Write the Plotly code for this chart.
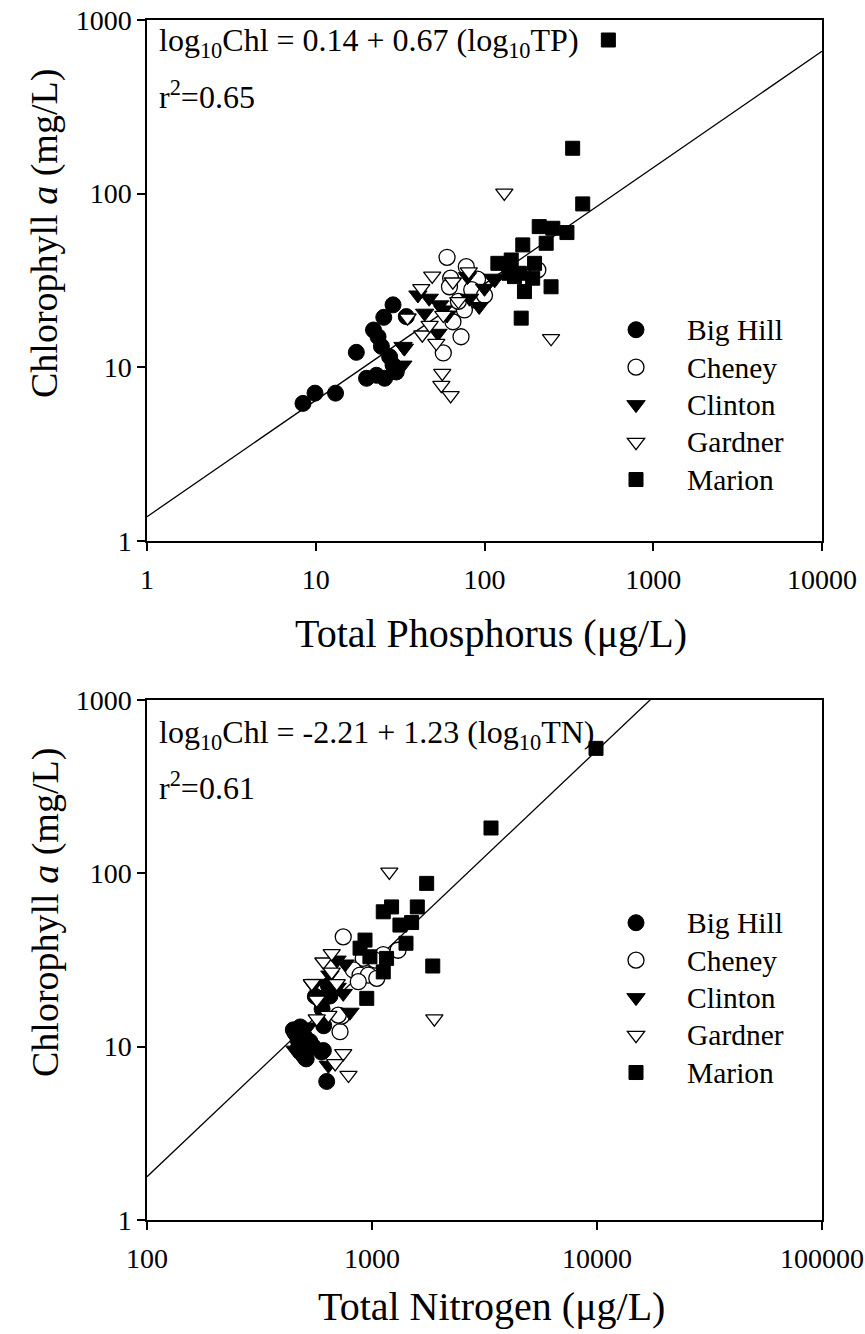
import math
import plotly.graph_objects as go

# ---------------- data: top panel (TP vs Chl) ----------------
bighill_tp = [8.4, 9.9, 13.1, 17.4, 20, 22.9, 25.6, 30, 28.7, 27.4, 24.5, 23.4, 22, 25.3, 28.7, 34.4]
bighill_tp_chl = [6.2, 7.1, 7.1, 12.2, 8.65, 9.0, 8.65, 9.4, 10.3, 11.5, 13.2, 15.0, 16.4, 19.4, 22.9, 19.6]

cheney_tp = [60, 78, 63, 62, 91, 89, 76, 65, 72.6, 57, 207, 84, 70, 100]
cheney_tp_chl = [43, 38, 32.6, 29.1, 32.2, 24.4, 21.4, 18.3, 15.0, 12.1, 36.4, 28, 24, 26]

clinton_tp = [32.9, 32.8, 33.5, 40.3, 44.2, 56.7, 53, 54.2, 79.3, 81.5, 93, 100, 115, 112, 47, 60]
clinton_tp_chl = [13.2, 10.3, 12.9, 26.1, 20.5, 21.4, 15.7, 22.9, 33.3, 25, 22.4, 28.5, 31.9, 32.6, 25, 20]

gardner_tp = [49, 42.2, 35, 42.8, 47.3, 51.8, 56.2, 55.5, 63, 80.7, 64.9, 131, 248, 57, 70]
gardner_tp_chl = [33.6, 28.5, 19.3, 15.4, 17.5, 13.8, 9.25, 7.9, 6.9, 35.6, 31.1, 101, 14.7, 20, 24]

marion_tp = [542, 333, 382, 211, 254, 308, 232, 168.6, 120, 144, 139.5, 161, 198, 193, 172.5, 248, 165, 150.6]
marion_tp_chl = [767, 182.6, 87.3, 64.6, 63.2, 59.7, 51.8, 50.7, 39.7, 41.5, 34.8, 34.8, 39.7, 32.6, 27.3, 29.1, 19.2, 33.3]

# ---------------- data: bottom panel (TN vs Chl) ----------------
bighill_tn = [447, 470, 455, 495, 530, 548, 597, 608, 629, 480, 470, 510, 500, 460, 525, 560, 600, 640, 610, 650]
bighill_tn_chl = [12.5, 10.9, 12.0, 9.15, 10.7, 10.0, 9.3, 9.5, 6.3, 13.0, 9.8, 8.5, 11.5, 11.8, 9.8, 19.5, 16.5, 22.5, 13.2, 19.6]

cheney_tn = [745, 1122, 1305, 1031, 914, 826, 885, 963, 1050, 869, 721, 733, 708]
cheney_tn_chl = [43, 34, 36, 31.6, 32.3, 27.7, 25.9, 25.9, 24.8, 23.7, 12.2, 15.0, 15.2]

clinton_tn = [455, 480, 640, 547, 575, 558, 600, 650, 699, 745, 798, 760, 700, 620, 520]
clinton_tn_chl = [9.55, 8.8, 7.8, 22.6, 18.1, 23.2, 20, 25.9, 31.6, 20.3, 15.8, 30, 22, 15, 13]

gardner_tn = [1194, 1893, 745, 686, 786, 608, 662, 540, 697, 568, 640, 568, 662]
gardner_tn_chl = [102, 14.5, 9.15, 8.0, 6.86, 30.9, 34.5, 23.2, 23.2, 18.6, 15.2, 14.5, 27]

marion_tn = [9900, 3380, 1750, 1222, 1122, 1590, 1331, 1500, 1416, 1862, 948, 931, 979, 1161, 1122, 885]
marion_tn_chl = [526, 182.6, 87.5, 64, 60, 64, 50.3, 52, 39.5, 29.2, 19, 41.2, 33, 32.3, 27, 37]

# regression coefficients (from the printed equations)
tp_fit = (0.14, 0.67)
tn_fit = (-2.21, 1.23)
tp_line_x = [1, 10000]
tn_line_x = [100, 100000]

lakes = ["Big Hill", "Cheney", "Clinton", "Gardner", "Marion"]
styles = {
    "Big Hill": dict(symbol="circle", color="black", size=16, line=dict(color="black", width=1)),
    "Cheney": dict(symbol="circle", color="white", size=16, line=dict(color="black", width=1.3)),
    "Clinton": dict(symbol="triangle-down", color="black", size=16, line=dict(color="black", width=1)),
    "Gardner": dict(symbol="triangle-down", color="white", size=15, line=dict(color="black", width=1.3)),
    "Marion": dict(symbol="square", color="black", size=14, line=dict(color="black", width=1)),
}

top_data = {
    "Big Hill": (bighill_tp, bighill_tp_chl),
    "Cheney": (cheney_tp, cheney_tp_chl),
    "Clinton": (clinton_tp, clinton_tp_chl),
    "Gardner": (gardner_tp, gardner_tp_chl),
    "Marion": (marion_tp, marion_tp_chl),
}
bot_data = {
    "Big Hill": (bighill_tn, bighill_tn_chl),
    "Cheney": (cheney_tn, cheney_tn_chl),
    "Clinton": (clinton_tn, clinton_tn_chl),
    "Gardner": (gardner_tn, gardner_tn_chl),
    "Marion": (marion_tn, marion_tn_chl),
}

FONT = "'Liberation Serif', 'Times New Roman', serif"
fig = go.Figure()


def fit_y(x, c):
    return 10 ** (c[0] + c[1] * math.log10(x))


fig.add_trace(go.Scatter(x=tp_line_x, y=[fit_y(v, tp_fit) for v in tp_line_x], mode="lines",
                         line=dict(color="black", width=1.3), showlegend=False, xaxis="x", yaxis="y"))
fig.add_trace(go.Scatter(x=tn_line_x, y=[fit_y(v, tn_fit) for v in tn_line_x], mode="lines",
                         line=dict(color="black", width=1.3), showlegend=False, xaxis="x2", yaxis="y2"))


def legend_name(s):
    return '<span style="font-size:29.5px">' + s + '</span>'


for lk in lakes:
    x, y = top_data[lk]
    fig.add_trace(go.Scatter(x=x, y=y, mode="markers", name=legend_name(lk), legend="legend",
                             marker=styles[lk], xaxis="x", yaxis="y"))
for lk in lakes:
    x, y = bot_data[lk]
    fig.add_trace(go.Scatter(x=x, y=y, mode="markers", name=legend_name(lk), legend="legend2",
                             marker=styles[lk], xaxis="x2", yaxis="y2"))

W, H = 865, 1334


def px_x(p):
    return p / W


def px_y(p):
    return 1 - p / H


axis_common = dict(type="log", showline=True, linecolor="black", linewidth=1.5, mirror=True,
                   ticks="outside", ticklen=8, tickwidth=1.5, tickcolor="black", showgrid=False,
                   zeroline=False, automargin=False,
                   tickfont=dict(family=FONT, size=28, color="black"))

legend_common = dict(xanchor="left", yanchor="top", bgcolor="rgba(0,0,0,0)",
                     font=dict(family=FONT, size=26.5, color="black"), tracegroupgap=0, itemwidth=92)

fig.update_layout(
    width=W, height=H, margin=dict(l=0, r=0, t=0, b=0, autoexpand=False),
    paper_bgcolor="white", plot_bgcolor="white",
    font=dict(family=FONT, color="black"),
    xaxis=dict(domain=[px_x(147), px_x(822)], anchor="y", range=[0, 4],
               tickvals=[1, 10, 100, 1000, 10000], ticktext=["1", "10", "100", "1000", "10000"],
               ticklabelstandoff=5, **axis_common),
    yaxis=dict(domain=[px_y(541), px_y(20)], anchor="x", range=[0, 3],
               tickvals=[1, 10, 100, 1000], ticktext=["1", "10", "100", "1000"], **axis_common),
    xaxis2=dict(domain=[px_x(147), px_x(822)], anchor="y2", range=[2, 5],
                tickvals=[100, 1000, 10000, 100000], ticktext=["100", "1000", "10000", "100000"],
                ticklabelstandoff=5, **axis_common),
    yaxis2=dict(domain=[px_y(1220), px_y(700)], anchor="x2", range=[0, 3],
                tickvals=[1, 10, 100, 1000], ticktext=["1", "10", "100", "1000"], **axis_common),
    legend=dict(x=px_x(585), y=px_y(306), **legend_common),
    legend2=dict(x=px_x(585), y=px_y(899), **legend_common),
)

ann_font = dict(family=FONT, size=32, color="black")
xtitle_font = dict(family=FONT, size=40, color="black")
ytitle_font = dict(family=FONT, size=38, color="black")
annotations = [
    dict(text="log<sub>10</sub>Chl = 0.14 + 0.67 (log<sub>10</sub>TP)", x=px_x(157), y=px_y(43),
         xanchor="left", yanchor="middle", font=ann_font),
    dict(text="r<sup>2</sup>=0.65", x=px_x(157), y=px_y(95), xanchor="left", yanchor="middle", font=ann_font),
    dict(text="log<sub>10</sub>Chl = -2.21 + 1.23 (log<sub>10</sub>TN)", x=px_x(157), y=px_y(734),
         xanchor="left", yanchor="middle", font=ann_font),
    dict(text="r<sup>2</sup>=0.61", x=px_x(157), y=px_y(786), xanchor="left", yanchor="middle", font=ann_font),
    dict(text="Total Phosphorus (μg/L)", x=px_x(491), y=px_y(634), xanchor="center", yanchor="middle",
         font=xtitle_font),
    dict(text="Total Nitrogen (μg/L)", x=px_x(491), y=px_y(1306), xanchor="center", yanchor="middle",
         font=xtitle_font),
    dict(text="Chlorophyll <i>a</i> (mg/L)", x=px_x(45), y=px_y(234), xanchor="center", yanchor="middle",
         textangle=-90, font=ytitle_font),
    dict(text="Chlorophyll <i>a</i> (mg/L)", x=px_x(45), y=px_y(913), xanchor="center", yanchor="middle",
         textangle=-90, font=ytitle_font),
]
for a in annotations:
    a.update(xref="paper", yref="paper", showarrow=False)
fig.update_layout(annotations=annotations)

fig.write_html("out.html")
